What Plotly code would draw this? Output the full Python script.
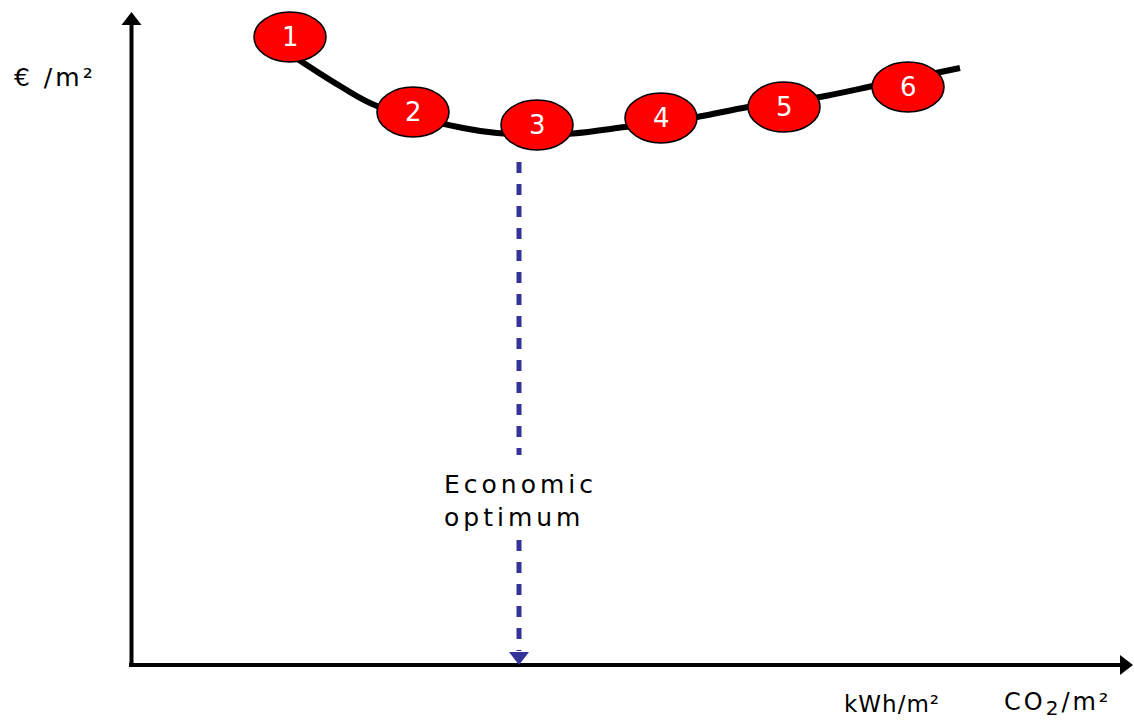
import plotly.graph_objects as go

# Global cost curve (x: primary energy, y: global cost; arbitrary units)
curve_energy = [15.6, 20.9, 24.6, 33.2, 36.6, 40.6, 44.2, 49.4, 56.6, 61.7, 68.9, 74.2, 82.9]
curve_cost = [61.3, 57.9, 55.9, 53.7, 53.2, 53.0, 53.15, 53.8, 54.8, 55.8, 56.8, 57.9, 59.7]

# Numbered variants placed on the curve
variant_labels = ["1", "2", "3", "4", "5", "6"]
variant_energy = [15.9, 28.2, 40.6, 53.0, 65.3, 77.7]
variant_cost = [62.8, 55.3, 54.0, 54.7, 55.8, 57.8]

# Economic optimum marker line (energy level, dashed segments above/below the label)
optimum_energy = 38.8
optimum_upper = [50.3, 21.0]
optimum_lower = [12.5, 1.4]

# Axis extents
x_axis_end = 100.2
y_axis_end = 65.3

FONT = "DejaVu Sans"
RED = "#FF0000"
BLUE = "#333399"
ELL_RX, ELL_RY = 3.6, 2.5
HEAD = 17.3            # triangle marker size for arrowheads
HEAD_OFF = 0.866       # centre-to-tip distance of that triangle, in axis units


def spaced(text, px):
    return f'<span style="letter-spacing:{px}px">{text}</span>'


fig = go.Figure()

# Axes as arrows
fig.add_trace(go.Scatter(
    x=[-0.2, x_axis_end - HEAD_OFF], y=[0, 0], mode="lines",
    line=dict(color="black", width=4), hoverinfo="skip", showlegend=False,
))
fig.add_trace(go.Scatter(
    x=[0.05, 0.05], y=[-0.2, y_axis_end - HEAD_OFF], mode="lines",
    line=dict(color="black", width=4), hoverinfo="skip", showlegend=False,
))
fig.add_trace(go.Scatter(
    x=[x_axis_end - HEAD_OFF, 0.05], y=[0, y_axis_end - HEAD_OFF], mode="markers",
    marker=dict(symbol=["triangle-right", "triangle-up"], size=HEAD, color="black",
                line=dict(width=0)),
    hoverinfo="skip", showlegend=False, cliponaxis=False,
))

# Cost curve
fig.add_trace(go.Scatter(
    x=curve_energy, y=curve_cost, mode="lines",
    line=dict(color="black", width=6, shape="spline", smoothing=1.0),
    hoverinfo="skip", showlegend=False,
))

# Arrowhead at the foot of the optimum line
fig.add_trace(go.Scatter(
    x=[optimum_energy], y=[HEAD_OFF], mode="markers",
    marker=dict(symbol="triangle-down", size=HEAD, color=BLUE, line=dict(width=0)),
    hoverinfo="skip", showlegend=False, cliponaxis=False,
))

shapes = []
# Dashed optimum line, broken around its label
for y0, y1 in (optimum_upper, optimum_lower):
    shapes.append(dict(
        type="line", xref="x", yref="y",
        x0=optimum_energy, x1=optimum_energy, y0=y0, y1=y1,
        line=dict(color=BLUE, width=5, dash="11px,11px"), layer="below",
    ))

# Variant ellipses
for xv, yv in zip(variant_energy, variant_cost):
    shapes.append(dict(
        type="circle", xref="x", yref="y",
        x0=xv - ELL_RX, x1=xv + ELL_RX, y0=yv - ELL_RY, y1=yv + ELL_RY,
        fillcolor=RED, line=dict(color="black", width=1.6), layer="above",
    ))

annotations = []

# Variant numbers
for lab, xv, yv in zip(variant_labels, variant_energy, variant_cost):
    annotations.append(dict(
        x=xv, y=yv, xref="x", yref="y", text=lab, showarrow=False,
        font=dict(family=FONT, size=26, color="white"),
        xanchor="center", yanchor="middle",
    ))

# Axis titles
annotations.append(dict(
    x=-11.9, y=58.8, xref="x", yref="y", text=spaced("€ /m²", 3),
    showarrow=False, xanchor="left", yanchor="middle",
    font=dict(family=FONT, size=25, color="black"),
))
annotations.append(dict(
    x=71.1, y=-3.9, xref="x", yref="y", text=spaced("kWh/m²", 1),
    showarrow=False, xanchor="left", yanchor="middle",
    font=dict(family=FONT, size=23, color="black"),
))
annotations.append(dict(
    x=87.1, y=-3.9, xref="x", yref="y",
    text=(spaced("CO", 3)
          + '<span style="font-size:20px;baseline-shift:-5px;letter-spacing:3px">2</span>'
          + spaced("/m²", 3)),
    showarrow=False, xanchor="left", yanchor="middle",
    font=dict(family=FONT, size=24, color="black"),
))

# Optimum label
annotations.append(dict(
    x=31.1, y=16.4, xref="x", yref="y",
    text=spaced("Economic", 4) + "<br>" + spaced("optimum", 4),
    showarrow=False, xanchor="left", yanchor="middle", align="left",
    font=dict(family=FONT, size=25, color="black"),
))

fig.update_layout(
    width=1134, height=722,
    margin=dict(l=0, r=0, t=0, b=0),
    paper_bgcolor="white", plot_bgcolor="white",
    xaxis=dict(range=[-13.1, 100.3], visible=False, fixedrange=True),
    yaxis=dict(range=[-5.7, 66.5], visible=False, fixedrange=True),
    shapes=shapes, annotations=annotations,
    showlegend=False,
)

fig.write_html("out.html")
